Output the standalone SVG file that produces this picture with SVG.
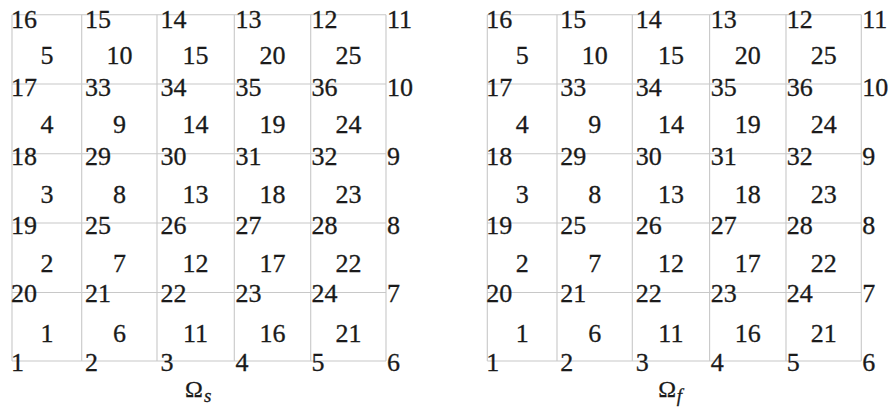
<svg xmlns="http://www.w3.org/2000/svg" width="893" height="407" viewBox="0 0 893 407" font-family="Liberation Serif, DejaVu Serif, serif">
<style>
.grid{stroke:#c8c8c8;stroke-width:1.1;fill:none}
.n,.e,.om,.sub{fill:#1a1a1a;stroke:#1a1a1a;stroke-width:0.3}
.n{font-size:26px}
.e{font-size:26px;text-anchor:middle}
.om{font-size:24px}
.sub{font-size:19px;font-style:italic}
</style>
<rect width="893" height="407" fill="#fff"/>
<g id="mesh-s">
  <g id="grid-s" class="grid">
    <path d="M12 14.7H386M12 84H386M12 153.7H386M12 223H386M12 292.5H386M12 361H386"/>
    <path d="M12 14.7V361M81.7 14.7V361M157 14.7V361M234.3 14.7V361M310.7 14.7V361M386 14.7V361"/>
  </g>
  <g id="nodes-s" class="n">
    <text x="11" y="28.3">16</text><text x="85" y="28.3">15</text><text x="160.5" y="28.3">14</text><text x="235.5" y="28.3">13</text><text x="311.5" y="28.3">12</text><text x="387" y="28.3">11</text>
    <text x="11" y="95.5">17</text><text x="85" y="95.5">33</text><text x="160.5" y="95.5">34</text><text x="235.5" y="95.5">35</text><text x="311.5" y="95.5">36</text><text x="387" y="95.5">10</text>
    <text x="11" y="165">18</text><text x="85" y="165">29</text><text x="160.5" y="165">30</text><text x="235.5" y="165">31</text><text x="311.5" y="165">32</text><text x="387" y="165">9</text>
    <text x="11" y="233.5">19</text><text x="85" y="233.5">25</text><text x="160.5" y="233.5">26</text><text x="235.5" y="233.5">27</text><text x="311.5" y="233.5">28</text><text x="387" y="233.5">8</text>
    <text x="11" y="302">20</text><text x="85" y="302">21</text><text x="160.5" y="302">22</text><text x="235.5" y="302">23</text><text x="311.5" y="302">24</text><text x="387" y="302">7</text>
    <text x="11" y="370.7">1</text><text x="85" y="370.7">2</text><text x="160.5" y="370.7">3</text><text x="235.5" y="370.7">4</text><text x="311.5" y="370.7">5</text><text x="387" y="370.7">6</text>
  </g>
  <g id="elems-s" class="e">
    <text x="47" y="64">5</text><text x="119.4" y="64">10</text><text x="195.6" y="64">15</text><text x="272.4" y="64">20</text><text x="348.5" y="64">25</text>
    <text x="47" y="133.4">4</text><text x="119.4" y="133.4">9</text><text x="195.6" y="133.4">14</text><text x="272.4" y="133.4">19</text><text x="348.5" y="133.4">24</text>
    <text x="47" y="202.8">3</text><text x="119.4" y="202.8">8</text><text x="195.6" y="202.8">13</text><text x="272.4" y="202.8">18</text><text x="348.5" y="202.8">23</text>
    <text x="47" y="272.2">2</text><text x="119.4" y="272.2">7</text><text x="195.6" y="272.2">12</text><text x="272.4" y="272.2">17</text><text x="348.5" y="272.2">22</text>
    <text x="47" y="341.6">1</text><text x="119.4" y="341.6">6</text><text x="195.6" y="341.6">11</text><text x="272.4" y="341.6">16</text><text x="348.5" y="341.6">21</text>
  </g>
  <g id="label-s"><text class="om" x="185" y="397">Ω</text><text class="sub" x="204" y="402">s</text></g>
</g>
<g id="mesh-f" transform="translate(475.3,0)">
  <g id="grid-f" class="grid">
    <path d="M12 14.7H386M12 84H386M12 153.7H386M12 223H386M12 292.5H386M12 361H386"/>
    <path d="M12 14.7V361M81.7 14.7V361M157 14.7V361M234.3 14.7V361M310.7 14.7V361M386 14.7V361"/>
  </g>
  <g id="nodes-f" class="n">
    <text x="11" y="28.3">16</text><text x="85" y="28.3">15</text><text x="160.5" y="28.3">14</text><text x="235.5" y="28.3">13</text><text x="311.5" y="28.3">12</text><text x="387" y="28.3">11</text>
    <text x="11" y="95.5">17</text><text x="85" y="95.5">33</text><text x="160.5" y="95.5">34</text><text x="235.5" y="95.5">35</text><text x="311.5" y="95.5">36</text><text x="387" y="95.5">10</text>
    <text x="11" y="165">18</text><text x="85" y="165">29</text><text x="160.5" y="165">30</text><text x="235.5" y="165">31</text><text x="311.5" y="165">32</text><text x="387" y="165">9</text>
    <text x="11" y="233.5">19</text><text x="85" y="233.5">25</text><text x="160.5" y="233.5">26</text><text x="235.5" y="233.5">27</text><text x="311.5" y="233.5">28</text><text x="387" y="233.5">8</text>
    <text x="11" y="302">20</text><text x="85" y="302">21</text><text x="160.5" y="302">22</text><text x="235.5" y="302">23</text><text x="311.5" y="302">24</text><text x="387" y="302">7</text>
    <text x="11" y="370.7">1</text><text x="85" y="370.7">2</text><text x="160.5" y="370.7">3</text><text x="235.5" y="370.7">4</text><text x="311.5" y="370.7">5</text><text x="387" y="370.7">6</text>
  </g>
  <g id="elems-f" class="e">
    <text x="47" y="64">5</text><text x="119.4" y="64">10</text><text x="195.6" y="64">15</text><text x="272.4" y="64">20</text><text x="348.5" y="64">25</text>
    <text x="47" y="133.4">4</text><text x="119.4" y="133.4">9</text><text x="195.6" y="133.4">14</text><text x="272.4" y="133.4">19</text><text x="348.5" y="133.4">24</text>
    <text x="47" y="202.8">3</text><text x="119.4" y="202.8">8</text><text x="195.6" y="202.8">13</text><text x="272.4" y="202.8">18</text><text x="348.5" y="202.8">23</text>
    <text x="47" y="272.2">2</text><text x="119.4" y="272.2">7</text><text x="195.6" y="272.2">12</text><text x="272.4" y="272.2">17</text><text x="348.5" y="272.2">22</text>
    <text x="47" y="341.6">1</text><text x="119.4" y="341.6">6</text><text x="195.6" y="341.6">11</text><text x="272.4" y="341.6">16</text><text x="348.5" y="341.6">21</text>
  </g>
  <g id="label-f"><text class="om" x="183" y="397">Ω</text><text class="sub" x="201.5" y="402">f</text></g>
</g>
</svg>
